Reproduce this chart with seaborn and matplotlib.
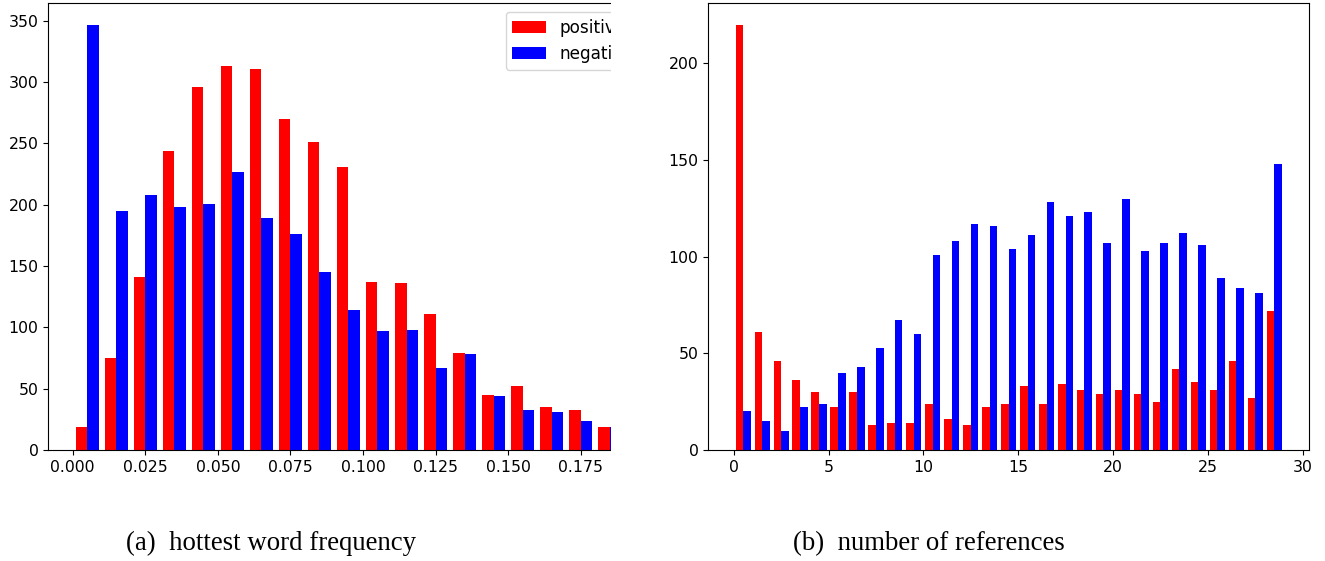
import numpy as np
import pandas as pd
import matplotlib
matplotlib.use("Agg")
import matplotlib.pyplot as plt
from matplotlib.patches import Rectangle
import seaborn as sns

# ---------------- data ----------------
series_labels = ["positive", "negative"]
series_colors = {"positive": "red", "negative": "blue"}

# (a) hottest word frequency: 19 bins of width 0.01 starting at 0
freq_edges = [round(0.01 * i, 2) for i in range(20)]
freq_positive = [19, 75, 141, 244, 296, 313, 311, 270, 251, 231, 137, 136, 111, 79, 45, 52, 35, 33, 19]
freq_negative = [347, 195, 208, 198, 201, 227, 189, 176, 145, 114, 97, 98, 67, 78, 44, 33, 31, 24, 19]

# (b) number of references: 29 bins of width 1 from 0 to 29
ref_edges = list(range(0, 30))
ref_positive = [220, 61, 46, 36, 30, 22, 30, 13, 14, 14, 24, 16, 13, 22, 24, 33, 24, 34, 31, 29,
                31, 29, 25, 42, 35, 31, 46, 27, 72]
ref_negative = [20, 15, 10, 22, 24, 40, 43, 53, 67, 60, 101, 108, 117, 116, 104, 111, 128, 121,
                123, 107, 130, 103, 107, 112, 106, 89, 84, 81, 148]

captions = ["(a)  hottest word frequency", "(b)  number of references"]


def make_frame(edges, pos, neg):
    edges = np.asarray(edges, dtype=float)
    centers = (edges[:-1] + edges[1:]) / 2
    return pd.DataFrame({
        "x": np.concatenate([centers, centers]),
        "count": np.concatenate([pos, neg]).astype(float),
        "label": [series_labels[0]] * len(pos) + [series_labels[1]] * len(neg),
    })


W, H = 1325, 561
fig = plt.figure(figsize=(W / 100, H / 100), dpi=100)
plt.rcParams["font.size"] = 11.3


def px_axes(l, r, t, b):
    return fig.add_axes([l / W, 1 - b / H, (r - l) / W, (b - t) / H])


ax1 = px_axes(48.3, 648.6, 3.3, 450)
ax2 = px_axes(708.3, 1309, 3.3, 450)

df1 = make_frame(freq_edges, freq_positive, freq_negative)
sns.histplot(data=df1, x="x", weights="count", hue="label", hue_order=series_labels,
             palette=series_colors, bins=freq_edges, multiple="dodge", shrink=0.8,
             alpha=1, edgecolor="none", linewidth=0, ax=ax1, legend=True)
sns.move_legend(ax1, "upper right", title=None, fontsize=12.2, frameon=True)

df2 = make_frame(ref_edges, ref_positive, ref_negative)
sns.histplot(data=df2, x="x", weights="count", hue="label", hue_order=series_labels,
             palette=series_colors, bins=ref_edges, multiple="dodge", shrink=0.8,
             alpha=1, edgecolor="none", linewidth=0, ax=ax2, legend=False)

for ax in (ax1, ax2):
    ax.set_xlabel("")
    ax.set_ylabel("")
    ax.tick_params(labelsize=11.3)

ax1.set_xticks([0.0, 0.025, 0.05, 0.075, 0.1, 0.125, 0.15, 0.175])
ax1.set_xticklabels(["0.000", "0.025", "0.050", "0.075", "0.100", "0.125", "0.150", "0.175"])
ax1.set_xlim(-0.0084, 0.1984)
ax2.set_xlim(-1.34, 30.34)

# the left panel is cropped on its right side in the reference
fig.add_artist(Rectangle((611 / W, 0), (656 - 611) / W, 1, transform=fig.transFigure,
                         facecolor="white", edgecolor="none", zorder=100))

fig.text(271.5 / W, 1 - 543.5 / H, captions[0], ha="center", va="center",
         family="Liberation Serif", fontsize=19.3)
fig.text(929 / W, 1 - 543.5 / H, captions[1], ha="center", va="center",
         family="Liberation Serif", fontsize=19.3)

fig.savefig("out.png", dpi=100)
